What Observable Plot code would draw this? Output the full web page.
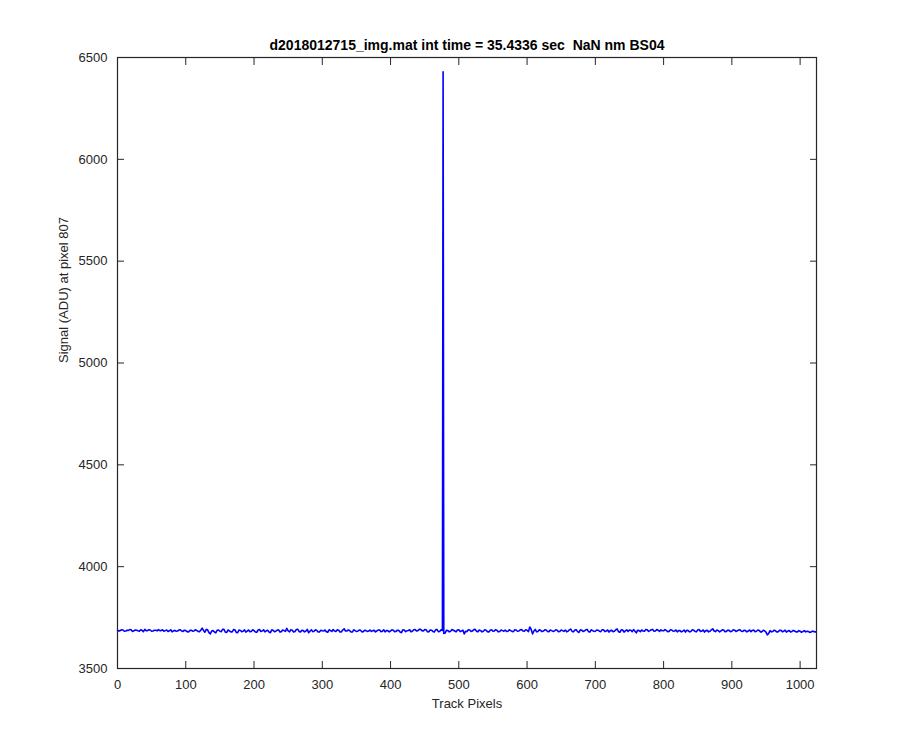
<!DOCTYPE html>
<html><head><meta charset="utf-8">
<script src="https://cdn.jsdelivr.net/npm/d3@7"></script>
<script src="https://cdn.jsdelivr.net/npm/@observablehq/plot@0.6"></script>
<style>body{margin:0;background:#fff}</style></head>
<body><div id="chart"></div>
<script>
const titleText = "d2018012715_img.mat int time = 35.4336 sec\u00a0 NaN nm BS04";
const xLabel = "Track Pixels";
const yLabel = "Signal (ADU) at pixel 807";
const xTicks = [0,100,200,300,400,500,600,700,800,900,1000];
const yTicks = [3500,4000,4500,5000,5500,6000,6500];

// signal at track pixels 0,4,8,...,1020
const evenY = [
 3688,3686,3689,3684,3687,3690,3685,3688,3683,3687,3692,3686,3689,3684,3688,3691,
 3686,3683,3689,3685,3680,3687,3684,3690,3682,3686,3679,3688,3684,3687,3681,3698,
 3678,3690,3670,3686,3675,3689,3681,3692,3677,3685,3680,3690,3676,3687,3683,3679,
 3689,3682,3686,3678,3691,3684,3680,3688,3676,3687,3683,3690,3681,3686,3697,3680,
 3688,3682,3693,3679,3686,3684,3676,3690,3683,3687,3680,3685,3689,3678,3686,3691,
 3682,3688,3680,3695,3684,3687,3679,3686,3683,3688,3681,3686,3684,3682,3687,3685,
 3689,3683,3680,3686,3684,3688,3682,3687,3676,3689,3685,3690,3683,3691,3686,3693,
 3684,3690,3680,3688,3679,3692,3682,3687,3674,3686,3683,3688,3680,3690,3684,3670,
 3681,3689,3684,3692,3680,3686,3683,3688,3679,3690,3684,3687,3682,3686,3689,3683,
 3686,3681,3689,3684,3691,3683,3688,3704,3670,3692,3682,3687,3684,3689,3681,3686,
 3684,3688,3682,3686,3689,3683,3693,3680,3690,3677,3688,3684,3692,3679,3686,3683,
 3688,3681,3690,3684,3679,3687,3683,3694,3678,3689,3685,3682,3688,3691,3675,3686,
 3689,3683,3690,3686,3692,3684,3688,3690,3685,3687,3682,3689,3684,3680,3686,3683,
 3679,3686,3682,3688,3680,3691,3684,3679,3687,3683,3695,3681,3686,3684,3689,3682,
 3687,3683,3688,3685,3690,3682,3686,3684,3681,3689,3683,3687,3680,3685,3665,3686,
 3682,3685,3681,3688,3683,3679,3686,3682,3684,3679,3683,3681,3680,3682,3679,3681
];
// signal at track pixels 2,6,10,...,1022
const oddY = [
 3684,3690,3683,3688,3691,3682,3689,3685,3690,3681,3686,3690,3683,3688,3685,3686,
 3690,3686,3682,3690,3685,3683,3689,3684,3688,3681,3687,3683,3690,3682,3688,3687,
 3692,3676,3684,3679,3688,3683,3692,3678,3689,3680,3691,3677,3689,3681,3690,3684,
 3681,3690,3679,3689,3682,3690,3685,3679,3690,3681,3688,3679,3689,3682,3685,3690,
 3679,3691,3682,3688,3680,3692,3683,3681,3690,3679,3688,3684,3680,3690,3682,3684,
 3690,3679,3689,3684,3689,3679,3690,3682,3689,3680,3688,3682,3689,3686,3680,3689,
 3681,3690,3686,3680,3690,3681,3688,3679,3690,3681,3687,3680,3690,3684,3692,3686,
 3691,3681,3689,3682,3690,3681,3690,3672,3688,3680,3691,3684,3689,3681,3688,3683,
 3690,3682,3691,3683,3689,3680,3690,3681,3688,3683,3691,3680,3689,3683,3682,3690,
 3682,3690,3683,3690,3684,3690,3681,3692,3684,3680,3690,3681,3690,3682,3689,3682,
 3690,3681,3689,3682,3680,3690,3682,3689,3681,3690,3682,3690,3681,3690,3682,3689,
 3683,3690,3681,3689,3686,3681,3690,3680,3690,3679,3690,3689,3681,3683,3688,3681,
 3684,3691,3682,3690,3683,3691,3682,3685,3691,3681,3690,3683,3689,3686,3680,3689,
 3688,3680,3690,3682,3689,3682,3689,3686,3680,3690,3684,3689,3680,3690,3681,3688,
 3681,3690,3682,3689,3683,3688,3680,3689,3687,3681,3689,3680,3688,3679,3672,3680,
 3688,3679,3687,3680,3688,3684,3679,3687,3680,3686,3678,3686,3683,3677,3684,3680
];
// cosmic-ray spike and last pixel
const extraX = [477, 1023];
const extraY = [6430, 3680];

const data = evenY.map((y, i) => ({x: i * 4, y}))
  .concat(oddY.map((y, i) => ({x: i * 4 + 2, y})))
  .concat(extraX.map((x, i) => ({x, y: extraY[i]})))
  .sort((a, b) => a.x - b.x);

const ink = "#262626";
const chart = Plot.plot({
  width: 900, height: 750,
  marginLeft: 117, marginRight: 84, marginTop: 57, marginBottom: 82,
  style: {fontFamily: "'Liberation Sans', Arial, Helvetica, sans-serif", fontSize: "13px", color: ink, background: "#fff"},
  x: {domain: [0, 1024]},
  y: {domain: [3500, 6500]},
  marks: [
    Plot.line(data, {x: "x", y: "y", stroke: "#0000ff", strokeWidth: 1.6}),
    Plot.frame({stroke: ink, strokeWidth: 1.2}),
    Plot.axisX(xTicks, {anchor: "bottom", tickSize: 0, tickPadding: 11, label: null, tickFormat: d => String(d)}),
    Plot.axisY(yTicks, {anchor: "left", tickSize: 0, tickPadding: 10, label: null, tickFormat: d => String(d)}),
    Plot.axisX(xTicks, {anchor: "bottom", tickSize: -7, tickFormat: () => "", label: null}),
    Plot.axisX(xTicks, {anchor: "top", tickSize: -7, tickFormat: () => "", label: null}),
    Plot.axisY(yTicks, {anchor: "left", tickSize: -7, tickFormat: () => "", label: null}),
    Plot.axisY(yTicks, {anchor: "right", tickSize: -7, tickFormat: () => "", label: null}),
    Plot.text([titleText], {frameAnchor: "top", dy: -17, fontWeight: "bold", fontSize: 14, fill: "#000"}),
    Plot.text([xLabel], {frameAnchor: "bottom", dy: 39, fill: ink}),
    Plot.text([yLabel], {frameAnchor: "left", dx: -54, rotate: -90, fill: ink})
  ]
});
document.getElementById("chart").append(chart);
</script>
</body></html>
